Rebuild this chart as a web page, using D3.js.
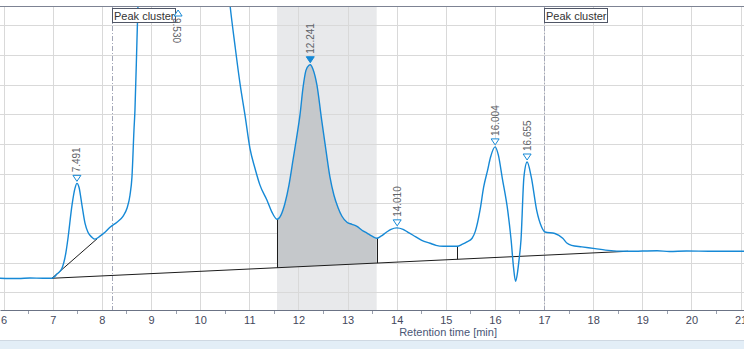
<!DOCTYPE html>
<html>
<head>
<meta charset="utf-8">
<script src="https://cdn.jsdelivr.net/npm/d3@7"></script>
<style>
  body { margin: 0; background: #fff; }
  svg { display: block; font-family: "Liberation Sans", Arial, sans-serif; }
</style>
</head>
<body>
<svg id="chart" width="744" height="349"></svg>
<script>
// chromatogram trace (time in min, signal in arbitrary units)
var timeMin = [5.925, 6.30, 6.535, 6.80, 6.983, 7.085, 7.187, 7.268, 7.309, 7.39, 7.452, 7.492, 7.533, 7.594, 7.655, 7.716, 7.798, 7.859, 7.96, 8.062, 8.164, 8.306, 8.428, 8.51, 8.571, 8.611, 8.652, 8.672, 8.713, 8.733, 8.876, 9.53, 10.30, 10.61, 10.708, 10.81, 10.912, 11.013, 11.115, 11.217, 11.36, 11.46, 11.563, 11.644, 11.726, 11.807, 11.889, 11.97, 12.031, 12.092, 12.153, 12.214, 12.241, 12.296, 12.377, 12.473, 12.56, 12.642, 12.723, 12.805, 12.886, 12.988, 13.09, 13.192, 13.294, 13.396, 13.498, 13.593, 13.681, 13.797, 13.885, 14.0, 14.13, 14.232, 14.334, 14.51, 14.68, 14.8, 14.95, 15.09, 15.23, 15.34, 15.43, 15.535, 15.60, 15.70, 15.77, 15.85, 15.91, 16.004, 16.07, 16.15, 16.26, 16.33, 16.38, 16.42, 16.46, 16.49, 16.53, 16.59, 16.655, 16.74, 16.85, 16.95, 17.02, 17.22, 17.38, 17.47, 17.56, 17.77, 18.04, 18.25, 18.71, 19.3, 19.55, 19.9, 20.4, 21.07];
var signal = [0.47, 0.46, 0.48, 0.47, 0.47, 0.61, 0.81, 1.35, 1.82, 2.93, 3.51, 3.67, 3.54, 2.93, 2.33, 2.02, 1.85, 1.79, 1.89, 2.02, 2.19, 2.36, 2.56, 2.83, 3.27, 3.88, 5.46, 6.13, 8.49, 9.64, 16.0, 30.0, 16.0, 9.64, 8.32, 7.04, 5.97, 4.85, 4.18, 3.61, 3.10, 2.70, 2.46, 2.60, 3.00, 3.61, 4.45, 5.29, 5.97, 6.88, 7.48, 7.65, 7.67, 7.52, 6.98, 5.80, 4.79, 3.88, 3.27, 2.86, 2.56, 2.36, 2.29, 2.22, 2.09, 1.99, 1.89, 1.82, 1.89, 2.03, 2.12, 2.17, 2.12, 2.02, 1.92, 1.75, 1.65, 1.58, 1.55, 1.55, 1.55, 1.62, 1.70, 1.82, 2.05, 2.80, 3.54, 4.11, 4.55, 4.90, 4.62, 3.84, 2.76, 1.75, 0.81, 0.37, 0.67, 1.08, 1.75, 3.88, 4.39, 3.88, 2.76, 2.20, 2.03, 1.98, 1.82, 1.65, 1.58, 1.53, 1.47, 1.42, 1.38, 1.40, 1.37, 1.39, 1.38, 1.38];

var peakTimes = [7.491, 9.530, 12.241, 14.010, 16.004, 16.655];
var peakLabels = ["7.491", "9.530", "12.241", "14.010", "16.004", "16.655"];
var peakHeights = [3.67, null, 7.67, 2.17, 4.90, 4.39];   // null = off scale
var selectedPeak = "12.241";

var xTicks = [6, 7, 8, 9, 10, 11, 12, 13, 14, 15, 16, 17, 18, 19, 20, 21];
var yGrid = [0, 1, 2, 3, 4, 5, 6, 7, 8, 9];
var clusterTimes = [8.199, 16.999];
var clusterLabel = "Peak cluster";
var selectedRange = [11.563, 13.593];
var baselineMain = [[6.983, 0.47], [18.71, 1.38]];
var baselineSub = [[6.983, 0.47], [7.90, 1.80]];
var dropTimes = [11.563, 13.593, 15.23];
var xTitle = "Retention time [min]";

var W = 744, H = 349,
    TOP = 6, AXIS = 310;

var svg = d3.select('#chart');

var x = d3.scaleLinear().domain([5.925, 21.07]).range([0, W]);
var y = d3.scaleLinear().domain([-0.6, 9.65]).range([AXIS, TOP]);

var trace = timeMin.map(function(t, i) { return {t: t, v: signal[i]}; });

function curveAt(t) {
  var i = d3.bisector(function(d) { return d.t; }).left(trace, t);
  if (i <= 0) return trace[0].v;
  var a = trace[i - 1], b = trace[i];
  if (b.t === t) return b.v;
  return a.v + (b.v - a.v) * (t - a.t) / (b.t - a.t);
}
function baseAt(t) {
  var a = baselineMain[0], b = baselineMain[1];
  return a[1] + (b[1] - a[1]) * (t - a[0]) / (b[0] - a[0]);
}

svg.append('defs').append('clipPath').attr('id', 'plotclip')
  .append('rect').attr('x', 0).attr('y', TOP).attr('width', W).attr('height', AXIS - TOP);

// bottom strip
svg.append('rect').attr('x', 0).attr('y', 340).attr('width', W).attr('height', 9).attr('fill', '#e3eef7');
svg.append('line').attr('x1', 0).attr('x2', W).attr('y1', 340.5).attr('y2', 340.5).attr('stroke', '#cfd8e2');

// selected range shading
svg.append('rect')
  .attr('x', x(selectedRange[0])).attr('y', TOP)
  .attr('width', x(selectedRange[1]) - x(selectedRange[0]))
  .attr('height', AXIS - TOP)
  .attr('fill', '#e8e9eb');

// grid
var grid = svg.append('g').attr('stroke', '#d9d9d9').attr('stroke-width', 1);
grid.selectAll('.vg').data(xTicks).enter().append('line')
  .attr('x1', function(d) { return Math.round(x(d)) + 0.5; })
  .attr('x2', function(d) { return Math.round(x(d)) + 0.5; })
  .attr('y1', TOP).attr('y2', AXIS);
grid.selectAll('.hg').data(yGrid).enter().append('line')
  .attr('x1', 0).attr('x2', W)
  .attr('y1', function(d) { return Math.round(y(d)) + 0.5; })
  .attr('y2', function(d) { return Math.round(y(d)) + 0.5; });

var plot = svg.append('g').attr('clip-path', 'url(#plotclip)');

// filled area of the selected peak
var inside = trace.filter(function(d) { return d.t >= selectedRange[0] && d.t <= selectedRange[1]; });
var areaGen = d3.area()
  .x(function(d) { return x(d.t); })
  .y0(function(d) { return y(baseAt(d.t)); })
  .y1(function(d) { return y(d.v); })
  .curve(d3.curveMonotoneX);
plot.append('path').datum(inside).attr('d', areaGen).attr('fill', '#c5c8cb');

// cluster markers
plot.selectAll('.cl').data(clusterTimes).enter().append('line')
  .attr('x1', function(d) { return Math.round(x(d)) + 0.5; })
  .attr('x2', function(d) { return Math.round(x(d)) + 0.5; })
  .attr('y1', TOP).attr('y2', AXIS)
  .attr('stroke', '#a3a7b8').attr('stroke-width', 1)
  .attr('stroke-dasharray', '5,2,1,2');

// baselines + drop lines
var lineGen = d3.line().x(function(d) { return x(d[0]); }).y(function(d) { return y(d[1]); });
plot.append('path').attr('d', lineGen(baselineMain)).attr('stroke', '#1c1c1c').attr('fill', 'none');
plot.append('path').attr('d', lineGen(baselineSub)).attr('stroke', '#1c1c1c').attr('fill', 'none');
plot.selectAll('.drop').data(dropTimes).enter().append('line')
  .attr('x1', function(d) { return Math.round(x(d)) + 0.5; })
  .attr('x2', function(d) { return Math.round(x(d)) + 0.5; })
  .attr('y1', function(d) { return y(curveAt(d)); })
  .attr('y2', function(d) { return y(baseAt(d)); })
  .attr('stroke', '#1c1c1c');

// the trace
var traceGen = d3.line()
  .x(function(d) { return x(d.t); })
  .y(function(d) { return y(d.v); })
  .curve(d3.curveMonotoneX);
plot.append('path').datum(trace).attr('d', traceGen)
  .attr('fill', 'none').attr('stroke', '#1689d6').attr('stroke-width', 1.4);

// top border
svg.append('line').attr('x1', 0).attr('x2', W).attr('y1', TOP + 0.5).attr('y2', TOP + 0.5).attr('stroke', '#7d8393');

// cluster label boxes
clusterTimes.forEach(function(t) {
  var g = svg.append('g').attr('transform', 'translate(' + (Math.round(x(t)) + 0.5) + ',' + (TOP + 2.5) + ')');
  g.append('rect').attr('width', 63).attr('height', 14).attr('fill', '#fff').attr('stroke', '#505666');
  g.append('text').attr('x', 1.5).attr('y', 11).attr('font-size', 11).attr('fill', '#333').text(clusterLabel);
});

// peak markers and labels
var labelCol = '#5f6368', blue = '#1689d6';
peakTimes.forEach(function(t, i) {
  var px = x(t);
  var g = svg.append('g');
  if (peakHeights[i] === null) {
    // off scale: marker at top, label hangs down
    var ty = TOP + 4;
    g.append('path').attr('d', 'M' + (px + 1) + ',' + ty + 'l4,6l-8,0z')
      .attr('fill', '#fff').attr('stroke', blue);
    g.append('text').attr('transform', 'translate(' + (px - 1) + ',' + (ty + 8) + ') rotate(90)')
      .attr('dy', '0.35em').attr('font-size', 10).attr('fill', labelCol).text(peakLabels[i]);
  } else {
    var py = y(peakHeights[i]) - 2;
    var sel = peakLabels[i] === selectedPeak;
    g.append('path').attr('d', 'M' + px + ',' + py + 'l-4,-6l8,0z')
      .attr('fill', sel ? blue : '#fff').attr('stroke', blue);
    g.append('text').attr('transform', 'translate(' + px + ',' + (py - 9) + ') rotate(-90)')
      .attr('dy', '0.35em').attr('font-size', 10).attr('fill', labelCol).text(peakLabels[i]);
  }
});

// x axis
var xAxis = d3.axisBottom(x).tickValues(xTicks).tickSize(0).tickPadding(6).tickFormat(d3.format('d'));
var ax = svg.append('g').attr('transform', 'translate(0,' + AXIS + ')').call(xAxis);
ax.select('.domain').attr('stroke', '#6b7385');
ax.selectAll('text').attr('font-size', 11).attr('fill', '#44485c').attr('font-family', '"Liberation Sans", Arial, sans-serif');
var minor = d3.range(6.5, 21, 1);
ax.selectAll('.minor').data(minor).enter().append('line')
  .attr('x1', function(d) { return Math.round(x(d)) + 0.5; })
  .attr('x2', function(d) { return Math.round(x(d)) + 0.5; })
  .attr('y1', 1).attr('y2', 4).attr('stroke', '#9aa0ae');

svg.append('text').attr('x', 497).attr('y', 336).attr('text-anchor', 'end')
  .attr('font-size', 11).attr('fill', '#4a5676').text(xTitle);
</script>
</body>
</html>
